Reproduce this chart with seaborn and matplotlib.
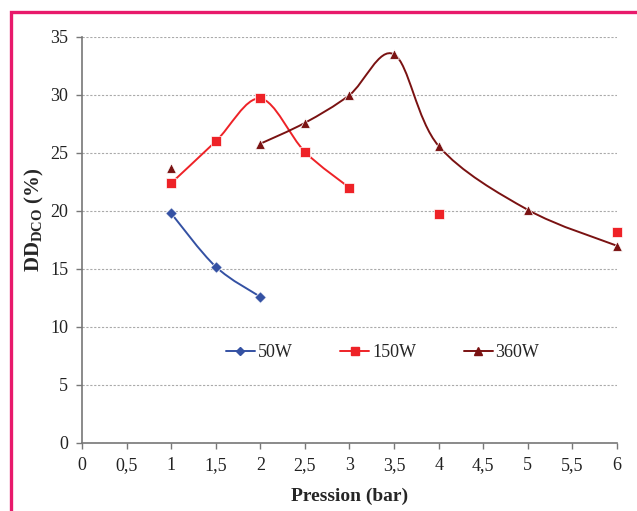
import numpy as np
import pandas as pd
import matplotlib
matplotlib.use("Agg")
import matplotlib.pyplot as plt
import seaborn as sns
from matplotlib.path import Path
from matplotlib.patches import PathPatch, Rectangle
from matplotlib.lines import Line2D

# connected (smoothed) series
p50_x = [1, 1.5, 2]
p50_y = [19.8, 15.2, 12.6]
p150_x = [1, 1.5, 2, 2.5, 3]
p150_y = [22.4, 26.0, 29.7, 25.1, 22.0]
p360_x = [2, 2.5, 3, 3.5, 4, 5, 6]
p360_y = [25.8, 27.6, 30.0, 33.5, 25.6, 20.1, 17.0]
# isolated points (not joined)
p150_extra_x = [4, 6]
p150_extra_y = [19.7, 18.2]
p360_extra_x = [1]
p360_extra_y = [23.7]

labels = ["50W", "150W", "360W"]
colors = {"50W": "#3451a3", "150W": "#ee2227", "360W": "#7a1212"}
markers = {"50W": "D", "150W": "s", "360W": "^"}
msize = {"50W": 34, "150W": 44, "360W": 48}

sns.set_theme(style="white")
plt.rcParams["font.family"] = ["Liberation Serif", "DejaVu Serif"]
plt.rcParams["mathtext.fontset"] = "custom"
plt.rcParams["mathtext.bf"] = "Liberation Serif:bold"
plt.rcParams["mathtext.rm"] = "Liberation Serif"

pts = pd.concat([
    pd.DataFrame({"x": p50_x, "y": p50_y, "s": "50W"}),
    pd.DataFrame({"x": p150_x + p150_extra_x, "y": p150_y + p150_extra_y, "s": "150W"}),
    pd.DataFrame({"x": p360_x + p360_extra_x, "y": p360_y + p360_extra_y, "s": "360W"}),
])

fig = plt.figure(figsize=(6.37, 5.11), dpi=100)
ax = fig.add_axes([0.1287, 0.1331, 0.8399, 0.7945])


def smooth_path(xs, ys):
    # Excel-like smoothed line: cubic Bezier through the points (Catmull-Rom tangents)
    p = np.column_stack([xs, ys]).astype(float)
    verts = [p[0]]
    codes = [Path.MOVETO]
    n = len(p)
    for i in range(n - 1):
        p0 = p[i - 1] if i > 0 else p[i]
        p3 = p[i + 2] if i + 2 < n else p[i + 1]
        c1 = p[i] + (p[i + 1] - p0) / 6.0
        c2 = p[i + 1] - (p3 - p[i]) / 6.0
        verts += [c1, c2, p[i + 1]]
        codes += [Path.CURVE4] * 3
    return Path(verts, codes)


for s, xs, ys in [("50W", p50_x, p50_y), ("150W", p150_x, p150_y), ("360W", p360_x, p360_y)]:
    ax.add_patch(PathPatch(smooth_path(xs, ys), facecolor="none",
                           edgecolor=colors[s], lw=1.4, zorder=2, clip_on=False))

for s in labels:
    d = pts[pts["s"] == s]
    sns.scatterplot(data=d, x="x", y="y", marker=markers[s], s=msize[s],
                    color=colors[s], edgecolor="white", linewidth=0.5,
                    ax=ax, zorder=3, legend=False, clip_on=False)

ax.set_xlim(0, 6)
ax.set_ylim(0, 35)
ax.set_xticks(np.arange(0, 6.01, 0.5))
ax.set_xticklabels(["0", "0,5", "1", "1,5", "2", "2,5", "3", "3,5", "4", "4,5", "5", "5,5", "6"])
ax.set_yticks(range(0, 36, 5))
ax.tick_params(axis="both", labelsize=13, colors="#222222", length=4, width=1,
               direction="out", bottom=True, left=True, pad=6)
ax.tick_params(axis="both", color="#777777")
ax.grid(axis="y", linestyle=(0, (2, 1.5)), color="#aaaaaa", lw=0.8)
ax.set_axisbelow(True)
for sp in ["top", "right"]:
    ax.spines[sp].set_visible(False)
for sp in ["left", "bottom"]:
    ax.spines[sp].set_color("#777777")
    ax.spines[sp].set_linewidth(1.2)

ax.set_xlabel("Pression (bar)", fontsize=14, fontweight="bold", labelpad=10)
ax.set_ylabel(r"DD$_{\mathbf{DCO}}$ (%)", fontsize=15, fontweight="bold", labelpad=2)
ax.yaxis.set_label_coords(-0.068, 0.55)

handles = [Line2D([0], [0], color=colors[s], marker=markers[s], lw=1.4,
                  markersize=4.5 if s == "50W" else 5.5) for s in labels]
ax.legend(handles, labels, loc="center", bbox_to_anchor=(0.562, 0.223), ncol=3,
          frameon=False, fontsize=13, handlelength=1.6, handletextpad=0.15,
          columnspacing=2.65)

fig.patches.append(Rectangle((10.5 / 637, -0.05), 1.0, 1 - 12.5 / 511 + 0.05,
                             transform=fig.transFigure, fill=False,
                             edgecolor="#e8196b", lw=2.4, zorder=10))

fig.savefig("out.png", dpi=100)
